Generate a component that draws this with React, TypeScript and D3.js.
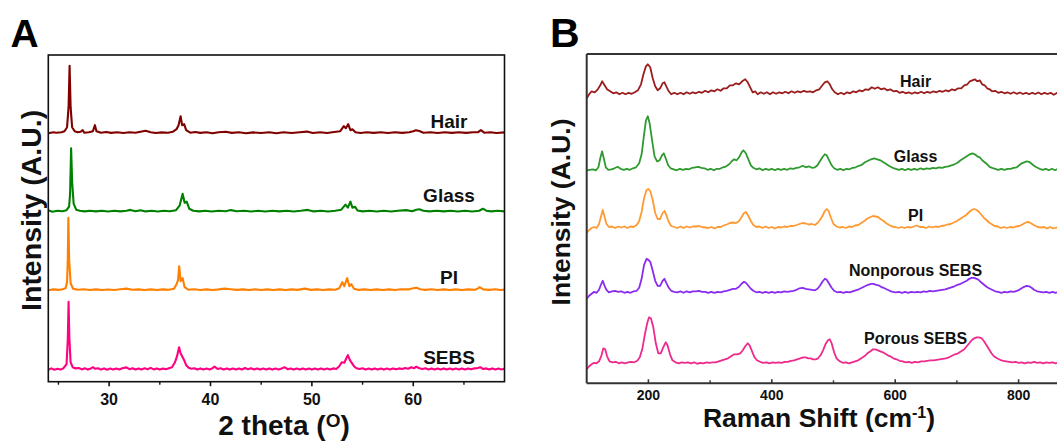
import React from "react";
import * as d3 from "d3";

type P = [number, number];

// ---------- Panel A: XRD (2 theta in degrees, intensity in A.U.) ----------
const xrdNames = ["Hair", "Glass", "PI", "SEBS"];
const xrdColors = ["#800000", "#008000", "#FF8000", "#FF0080"];
const xrdOffsets = [248.5, 170, 91.5, 11.5];
const xrdMajorTicks = [30, 40, 50, 60];
const xrdMinorTicks = [25, 35, 45, 55, 65];

const xrdHair: P[] = [
  [24, 0], [24.5, 1], [24.8, 0.5], [25.3, 1], [25.6, 2], [25.85, 6], [26.0, 26], [26.1, 67.5], [26.2, 26], [26.35, 6], [26.6, 2],
  [26.9, 1], [27.2, 1.5], [27.4, 3], [27.55, 0.5], [28.0, 1], [28.4, 2], [28.6, 8], [28.75, 2], [29.2, 0.5], [29.7, 1.2],
  [30.2, 0.3], [30.8, 1], [31.4, 0.2], [32.0, 1], [32.6, 0.4], [33.1, 1.5], [33.6, 2.5], [34.1, 1], [34.6, 0.2], [35.2, 0.8],
  [35.8, 0.5], [36.3, 1.5], [36.65, 4], [36.85, 8], [37.05, 17], [37.2, 8], [37.4, 9], [37.6, 3], [38.0, 0.5], [38.5, 1.2],
  [39.0, 0.3], [39.6, 1], [40.2, 0], [40.8, 1], [41.5, 1.4], [42.1, 0.3], [42.8, 1], [43.5, 0], [44.2, 0.8], [45.0, 0.2],
  [45.8, 1], [46.5, 0], [47.2, 0.9], [48.0, 0.2], [48.8, 1], [49.5, 1.6], [50.1, 0.2], [50.8, 0.9], [51.5, 0.2], [52.2, 1.2],
  [52.8, 2], [53.15, 7], [53.35, 5], [53.58, 9], [53.8, 3], [54.0, 4], [54.3, 1], [54.8, 0.2], [55.4, 1], [56.1, 0.3],
  [56.8, 1], [57.5, 0.2], [58.2, 1], [58.9, 0.3], [59.6, 1], [60.0, 2], [60.26, 3], [60.6, 2.2], [61.0, 0.5], [61.7, 1],
  [62.4, 0.2], [63.1, 1], [63.8, 0.3], [64.5, 1], [65.2, 0.3], [65.9, 1], [66.4, 1], [66.67, 3], [67.0, 0.5], [67.6, 1],
  [68.2, 0.2], [69, 0.8],
];

const xrdGlass: P[] = [
  [24, 1.5], [24.4, 0], [24.9, 1], [25.4, 0.5], [25.8, 1.5], [26.05, 5], [26.15, 18], [26.25, 63.5], [26.35, 30], [26.5, 8], [26.75, 2],
  [27.1, 1], [27.6, 0.3], [28.1, 1], [28.7, 0.3], [29.3, 1], [29.9, 0.2], [30.5, 1], [31.1, 0.3], [31.7, 1], [32.1, 1.8],
  [32.6, 0.4], [33.1, 1.5], [33.6, 0.3], [34.2, 1], [34.8, 0.2], [35.4, 1], [36.0, 0.4], [36.6, 1.5], [36.95, 6], [37.25, 18],
  [37.45, 9], [37.65, 10], [37.9, 3], [38.3, 1], [38.9, 0.3], [39.5, 1], [40.1, 0.2], [40.8, 1], [41.5, 0.4], [42.0, 1.6],
  [42.6, 0.5], [43.3, 1], [44.0, 0.2], [44.7, 0.9], [45.4, 0.2], [46.1, 1], [46.8, 0.3], [47.5, 1], [48.2, 0.2], [48.9, 0.9],
  [49.6, 1.8], [50.2, 0.3], [50.9, 1], [51.6, 0.2], [52.3, 1], [52.9, 2], [53.31, 7], [53.55, 4], [53.8, 10], [54.0, 4],
  [54.25, 5], [54.5, 1.2], [55.0, 0.3], [55.7, 1], [56.4, 0.2], [57.1, 0.9], [57.8, 0.2], [58.5, 1], [59.3, 1.6], [59.9, 0.5],
  [60.3, 2], [60.6, 2.5], [61.0, 1], [61.6, 0.3], [62.3, 1], [63.0, 0.3], [63.7, 1], [64.4, 0.2], [65.1, 0.9], [65.8, 0.2],
  [66.5, 1], [66.87, 3], [67.2, 1], [67.7, 0.3], [68.3, 1], [69, 0.3],
];

const xrdPI: P[] = [
  [24, 0], [24.5, 0.8], [25.0, 0.3], [25.4, 1], [25.7, 2], [25.85, 8], [25.92, 30], [25.98, 72.4], [26.06, 30], [26.2, 7], [26.45, 1.5],
  [26.9, 0.5], [27.5, 1], [28.1, 0.2], [28.7, 0.8], [29.3, 0.2], [29.9, 0.7], [30.5, 0.2], [31.1, 0.9], [31.7, 1.6], [32.3, 0.4],
  [32.9, 0.8], [33.5, 0.2], [34.1, 0.8], [34.7, 0.2], [35.3, 0.8], [35.9, 0.4], [36.4, 1.5], [36.65, 6], [36.8, 10], [36.91, 24],
  [37.05, 9], [37.25, 12], [37.45, 3], [37.8, 0.5], [38.4, 0.9], [39.0, 0.2], [39.6, 0.8], [40.2, 0.2], [40.8, 0.8], [41.4, 1.6],
  [42.0, 1], [42.6, 0.3], [43.2, 0.8], [43.8, 0.2], [44.4, 0.8], [45.0, 0.2], [45.6, 0.8], [46.2, 0.2], [46.8, 0.8], [47.4, 0.2],
  [48.0, 0.8], [48.6, 0.3], [49.3, 1.6], [49.9, 0.3], [50.5, 0.8], [51.1, 0.2], [51.7, 0.8], [52.3, 0.5], [52.7, 2], [53.0, 8],
  [53.2, 4], [53.48, 12], [53.7, 4], [53.9, 6], [54.15, 1.5], [54.6, 0.3], [55.2, 0.8], [55.8, 0.2], [56.4, 0.8], [57.0, 0.2],
  [57.6, 0.8], [58.2, 0.2], [58.8, 0.9], [59.5, 0.8], [60.0, 2], [60.3, 2.5], [60.7, 1], [61.2, 0.3], [61.8, 0.9], [62.4, 0.2],
  [63.0, 0.8], [63.6, 0.2], [64.2, 0.8], [64.8, 0.2], [65.4, 0.8], [66.1, 0.5], [66.3, 1.2], [66.54, 3], [66.9, 0.8], [67.5, 0.3],
  [68.1, 0.9], [68.6, 0.2], [69, 0.6],
];

const xrdSEBS: P[] = [
  [24, 0.5], [24.3, 1.8], [24.6, 0.5], [24.9, 1.5], [25.2, 0.6], [25.5, 2], [25.8, 6], [25.92, 30], [26.0, 68.5], [26.08, 32], [26.2, 8],
  [26.4, 3], [26.7, 1.8], [27.0, 2.2], [27.3, 0.8], [27.6, 2], [27.9, 0.6], [28.2, 1.8], [28.4, 3], [28.6, 1.5], [28.9, 2],
  [29.2, 0.6], [29.5, 1.8], [29.8, 0.5], [30.1, 1.6], [30.4, 0.6], [30.7, 1.7], [31.0, 0.8], [31.3, 2], [31.7, 2.8], [32.0, 1],
  [32.3, 2], [32.6, 0.7], [32.9, 1.8], [33.2, 0.8], [33.5, 2], [33.8, 1], [34.1, 2.3], [34.4, 0.8], [34.7, 1.8], [35.0, 0.6],
  [35.3, 1.7], [35.6, 1], [35.9, 2], [36.2, 3], [36.5, 8], [36.7, 14], [36.9, 23], [37.05, 17], [37.2, 14], [37.4, 10],
  [37.6, 5], [37.85, 2.5], [38.1, 1.5], [38.4, 2], [38.7, 0.7], [39.0, 1.8], [39.3, 0.8], [39.6, 1.7], [39.9, 0.8], [40.2, 2],
  [40.4, 3.5], [40.7, 1.2], [41.0, 2], [41.3, 0.8], [41.6, 1.8], [41.9, 0.6], [42.2, 1.7], [42.5, 0.8], [42.8, 1.8], [43.1, 0.7],
  [43.4, 2.2], [43.7, 1], [44.0, 2], [44.3, 0.8], [44.6, 1.8], [44.9, 0.6], [45.2, 1.6], [45.5, 0.7], [45.8, 1.8], [46.1, 0.6],
  [46.4, 1.6], [46.7, 0.7], [47.0, 1.6], [47.3, 3], [47.6, 1], [47.9, 1.7], [48.2, 0.6], [48.5, 1.6], [48.8, 0.8], [49.1, 1.8],
  [49.4, 0.8], [49.7, 1.6], [50.0, 0.6], [50.3, 1.6], [50.6, 0.7], [50.9, 1.8], [51.2, 0.8], [51.5, 1.6], [51.8, 0.8], [52.1, 1.8],
  [52.4, 1.2], [52.7, 4], [52.95, 8], [53.2, 7.5], [53.4, 12], [53.55, 15], [53.75, 10], [53.95, 7], [54.15, 4], [54.4, 2],
  [54.7, 1.2], [55.0, 2], [55.3, 0.8], [55.6, 1.7], [55.9, 0.7], [56.2, 1.8], [56.5, 0.8], [56.8, 1.6], [57.1, 0.6], [57.4, 1.7],
  [57.7, 0.8], [58.0, 1.8], [58.3, 0.9], [58.6, 1.8], [58.9, 1.2], [59.2, 2.2], [59.5, 1.5], [59.8, 3], [60.1, 2], [60.3, 3.5],
  [60.6, 2], [60.9, 1.2], [61.2, 2], [61.5, 0.8], [61.8, 1.8], [62.1, 0.7], [62.4, 1.7], [62.7, 0.8], [63.0, 1.8], [63.3, 0.8],
  [63.6, 1.7], [63.9, 0.6], [64.2, 1.6], [64.5, 0.8], [64.8, 1.8], [65.1, 0.8], [65.4, 1.7], [65.7, 0.9], [66.0, 1.8], [66.3, 2],
  [66.6, 3], [66.9, 1.2], [67.2, 1.8], [67.5, 0.7], [67.8, 1.8], [68.1, 0.8], [68.4, 1.7], [68.7, 0.8], [69, 1.5],
];

const xrdSeries = [xrdHair, xrdGlass, xrdPI, xrdSEBS];

// ---------- Panel B: Raman (cm-1, intensity in A.U.) ----------
const ramanNames = ["Hair", "Glass", "PI", "Nonporous SEBS", "Porous SEBS"];
const ramanColors = ["#9A1C1C", "#2F9A2F", "#FF9A33", "#8A2BF0", "#EE2A8C"];
const ramanOffsets = [289, 213, 155.3, 90.5, 20];
const ramanMajorTicks = [200, 400, 600, 800];
const ramanMinorTicks = [300, 500, 700];

const ramanHair: P[] = [
  [100, -4], [104, 0], [108, 3], [113, 2], [118, 5], [122, 9], [125, 13], [129, 9], [133, 5], [138, 3], [143, 1], [148, 2],
  [153, 0], [158, 1.5], [163, 0], [168, 1.5], [173, 0.5], [178, 2], [183, 4], [188, 10], [192, 20], [196, 28], [199, 30],
  [203, 27], [207, 16], [211, 8], [215, 4], [219, 6], [223, 11], [226, 12], [229, 8], [233, 3], [237, 0], [242, 1.5],
  [247, 0], [252, 1.5], [257, 0], [262, 2], [267, 0.5], [272, 2], [277, 1], [282, 2.5], [287, 1.5], [292, 3.5], [297, 2],
  [302, 4], [307, 3], [312, 5], [317, 3.5], [322, 6], [327, 6], [332, 9], [337, 9], [342, 11], [347, 10], [352, 13], [357, 15],
  [361, 12], [365, 7], [369, 2], [373, 3], [377, 0], [382, 2], [387, 0.5], [392, 2], [397, 0], [402, 2], [407, 0.5], [412, 2],
  [417, 1], [422, 2.5], [427, 1], [432, 3], [437, 1.5], [442, 3], [447, 2], [452, 3.5], [457, 2.5], [462, 3], [467, 2],
  [472, 4], [477, 5], [482, 9], [486, 12], [490, 13], [494, 10], [498, 5], [502, 2], [507, 0], [512, 1.5], [517, 0], [522, 2],
  [527, 1], [532, 3], [537, 2], [542, 4], [547, 3], [552, 5], [557, 4.5], [562, 7], [567, 5.5], [572, 7], [577, 5], [582, 6],
  [587, 4], [592, 5], [597, 3], [602, 3.5], [607, 1.5], [612, 2.5], [617, 1], [622, 2], [627, 0.5], [632, 2], [637, 1],
  [642, 2.5], [647, 1], [652, 2.5], [657, 1.5], [662, 3], [667, 2], [672, 3.5], [677, 2.5], [682, 4], [687, 3], [692, 5],
  [697, 4], [702, 6], [707, 6], [712, 9], [717, 10], [721, 13], [725, 14], [729, 15], [733, 13], [737, 14], [741, 10], [745, 9],
  [749, 6], [753, 5], [757, 3], [762, 3.5], [767, 1.5], [772, 2.5], [777, 1], [782, 2], [787, 0.5], [792, 2], [797, 0.5],
  [802, 1.8], [807, 0.3], [812, 1.5], [817, 0], [822, 1.5], [827, 0.3], [832, 1.8], [837, 0], [842, 1.5], [847, 0.3],
  [852, 1.5], [857, -0.5], [862, 1.3], [867, 0], [872, 1.3], [877, -0.3], [882, 1.2], [890, 0], [900, 0.5],
];

const ramanGlass: P[] = [
  [100, 0], [105, 0.5], [110, 1], [115, 0], [119, 3], [122, 12], [125, 19], [128, 11], [131, 3], [135, 0.5], [140, 1],
  [145, 2], [150, 3.5], [155, 1.5], [160, 0.5], [165, 1.5], [170, 0.5], [175, 2], [180, 3], [185, 7], [189, 16], [193, 36],
  [196, 50], [199, 54], [202, 47], [206, 30], [210, 14], [214, 9], [218, 10], [222, 15], [225, 17], [228, 12], [232, 5],
  [236, 2], [241, 1], [246, 0], [251, 1.5], [256, 0.5], [261, 1.5], [266, 1], [271, 2.5], [276, 3], [281, 3.5], [286, 2.5],
  [291, 2], [296, 0.5], [301, 1.5], [306, 0], [311, 1.5], [316, 1.5], [321, 3], [326, 4], [331, 6], [335, 9], [339, 11],
  [343, 10], [347, 13], [351, 18], [354, 20], [358, 17], [362, 11], [366, 5], [370, 2.5], [375, 1], [380, 2], [385, 0], [390, 1.5],
  [395, 0.5], [400, 1.5], [405, 0], [410, 1.5], [415, 0.5], [420, 1.5], [425, 0.5], [430, 2], [435, 1.5], [440, 2.5], [445, 3],
  [450, 4.5], [455, 3], [460, 4], [465, 2.5], [470, 3], [474, 5], [478, 9], [482, 13], [486, 16], [489, 15], [493, 10],
  [497, 5], [501, 2], [506, 0.5], [511, 1.5], [516, 0], [521, 1.5], [526, 1], [531, 2.5], [536, 3], [541, 4.5], [546, 5.5],
  [551, 8], [556, 9.5], [561, 11], [566, 12], [571, 11], [576, 10], [581, 8], [586, 6], [591, 4], [596, 2.5], [601, 1.5],
  [606, 0.5], [611, 1.5], [616, 0], [621, 1.5], [626, 0.5], [631, 1.5], [636, 0.5], [641, 2], [646, 1], [651, 2], [656, 1.5],
  [661, 2.5], [666, 2], [671, 3], [676, 2.5], [681, 3.5], [686, 4], [691, 5], [696, 6], [701, 7.5], [706, 10], [711, 12],
  [716, 14], [721, 16], [725, 17], [729, 16], [733, 14], [737, 13], [741, 10], [745, 8], [749, 6], [753, 3.5], [757, 2.5],
  [762, 1.5], [767, 0.5], [772, 1.5], [777, 0.5], [782, 1.5], [787, 1.5], [792, 2.5], [797, 3], [801, 5], [805, 7], [809, 8],
  [813, 9], [817, 8.5], [821, 6.5], [825, 4.5], [829, 3], [834, 1.5], [839, 0.5], [844, 1.5], [849, 0], [854, 1.5], [859, 0],
  [864, 1.5], [869, 0.5], [874, 1], [880, 0], [890, 1], [900, 0.5],
];

const ramanPI: P[] = [
  [100, -5], [104, -2], [108, 0], [112, 1], [116, 0], [120, 4], [123, 11], [126, 18], [129, 11], [132, 4], [136, 1],
  [141, 1.5], [146, 0], [151, 1.5], [156, 0.5], [161, 1.5], [166, 0], [171, 1.5], [176, 1], [181, 3], [185, 7], [189, 16],
  [193, 30], [197, 38], [200, 39], [203, 37], [207, 28], [211, 15], [215, 9], [219, 9], [223, 15], [226, 17], [229, 13],
  [233, 6], [237, 2], [242, 1], [247, 0], [252, 1.5], [257, 0], [262, 1.5], [267, 0.5], [272, 1.5], [277, 1.5], [282, 2],
  [287, 1], [292, 0.5], [297, 0], [302, 1], [307, -0.5], [312, 1], [317, 1], [322, 2.5], [327, 3.5], [332, 5], [337, 5.5],
  [342, 5], [347, 7], [351, 11], [355, 15], [358, 16], [362, 12], [366, 7], [370, 3], [375, 1], [380, 1.5], [385, 0],
  [390, 1.5], [395, 0], [400, 1], [405, -0.5], [410, 1], [415, 0.5], [420, 1.5], [425, 1], [430, 2], [435, 2], [440, 3],
  [445, 4], [450, 5], [455, 4.5], [460, 3.5], [465, 4], [470, 3], [474, 5], [478, 8], [482, 12], [486, 17], [489, 19],
  [492, 17], [496, 10], [500, 4], [505, 1.5], [510, 0.5], [515, 1], [520, 0], [525, 1.5], [530, 1], [535, 2.5], [540, 3],
  [545, 5], [550, 7], [555, 9.5], [560, 11], [564, 12], [568, 11.5], [572, 11], [576, 9], [580, 7.5], [585, 5], [590, 3],
  [595, 1.5], [600, 1], [605, 0], [610, 1], [615, 0], [620, 1], [625, 0.5], [630, 1.5], [635, 2.5], [640, 1], [645, 1],
  [650, 0], [655, 1.5], [660, 0.5], [665, 1.5], [670, 1], [675, 2], [680, 2.5], [685, 3.5], [690, 4], [695, 5.5], [700, 7],
  [705, 9], [710, 11], [715, 13], [720, 16], [724, 18], [728, 19], [732, 18], [736, 16], [740, 13], [744, 10], [748, 8],
  [752, 5.5], [756, 4], [761, 2], [766, 1.5], [771, 0], [776, 1], [781, 0], [786, 1], [791, 0.5], [796, 1.5], [801, 2],
  [806, 3.5], [810, 5], [814, 6], [818, 5.5], [822, 4], [826, 2.5], [831, 1], [836, 0.5], [841, 1], [846, -0.5], [851, 1],
  [856, -0.5], [861, 0.5], [866, -1], [871, 1], [876, -1.5], [881, 0.5], [890, -1], [900, 0],
];

const ramanNonporous: P[] = [
  [100, -6], [104, -3], [108, -1], [112, 1], [116, 0], [120, 3], [123, 8], [126, 12], [129, 7], [132, 3], [136, 0.5],
  [141, 1.5], [146, 2], [151, 1], [156, 1.5], [161, 0], [166, 1], [171, 0], [176, 1.5], [181, 2], [185, 5], [189, 14],
  [193, 28], [197, 34], [200, 33], [203, 31], [207, 22], [211, 12], [215, 7], [219, 7], [223, 12], [226, 14], [229, 10],
  [233, 5], [237, 2], [242, 1], [247, 0.5], [252, 1.5], [257, 0], [262, 1.5], [267, 0.5], [272, 1.5], [277, 1.5], [282, 2],
  [287, 1], [292, 1], [297, 0], [302, 1], [307, 0], [312, 1], [317, 0.5], [322, 1.5], [327, 2], [332, 3], [337, 4],
  [342, 4], [347, 6], [351, 9], [355, 11], [358, 10], [362, 7], [366, 4], [370, 2], [375, 0.5], [380, 1], [385, 0],
  [390, 1], [395, 0], [400, 1], [405, 0], [410, 1], [415, 0.5], [420, 1.5], [425, 1], [430, 1.5], [435, 2], [440, 3],
  [445, 4.5], [450, 5], [455, 4], [460, 3.5], [465, 3], [470, 2.5], [474, 4], [478, 7], [482, 11], [486, 14], [489, 13],
  [493, 9], [497, 5], [501, 2], [506, 0.5], [511, 1], [516, 0], [521, 1], [526, 0.5], [531, 1.5], [536, 2.5], [541, 3.5],
  [546, 5], [551, 6.5], [556, 8], [561, 9], [565, 9], [569, 8], [573, 7.5], [577, 6], [581, 5], [586, 3.5], [591, 2],
  [596, 1], [601, 0.5], [606, 1], [611, 0], [616, 1], [621, 0], [626, 1], [631, 0.5], [636, 1], [641, 0.5], [646, 1.5],
  [651, 1], [656, 2], [661, 1.5], [666, 2], [671, 2.5], [676, 3], [681, 3.5], [686, 4.5], [691, 5.5], [696, 6.5], [701, 8],
  [706, 9], [711, 10.5], [716, 12], [720, 14], [724, 15], [728, 15], [732, 14], [736, 12.5], [740, 10], [744, 8], [748, 6],
  [752, 4.5], [757, 3], [762, 1.5], [767, 1], [772, 0], [777, 1], [782, 0.5], [787, 1.5], [792, 1], [797, 2], [801, 3],
  [805, 4.5], [809, 6], [813, 7], [817, 6.5], [821, 5], [825, 3], [830, 1.5], [835, 1], [840, 0.5], [845, 1], [850, 0],
  [855, 1], [860, 0], [865, 1], [870, 0], [875, 1], [880, 0], [890, 0.5], [900, 0],
];

const ramanPorous: P[] = [
  [100, -6], [104, -3], [108, -1], [112, 0.5], [116, 0], [120, 2], [124, 8], [127, 15], [130, 14], [133, 7], [137, 2],
  [142, 1], [147, 1.5], [152, 0], [157, 1], [162, 0], [167, 1], [172, 1.5], [177, 1], [182, 2.5], [186, 6], [190, 14],
  [194, 28], [198, 40], [201, 46], [204, 45], [208, 36], [212, 20], [216, 10], [220, 10], [224, 16], [228, 21], [231, 18],
  [235, 9], [239, 3], [244, 1], [249, 0], [254, 1], [259, 0.5], [264, 1], [269, 0], [274, 1], [279, -0.5], [284, 0.5],
  [289, 0], [294, 1], [299, 0.5], [304, 1], [309, 1], [314, 2], [319, 3], [324, 4], [329, 5], [334, 7], [339, 9],
  [344, 9], [349, 10], [353, 13], [357, 17], [361, 20], [364, 18], [368, 12], [372, 6], [376, 3], [381, 1.5], [386, 0.5],
  [391, 1], [396, 0], [401, 1], [406, 0.5], [411, 1], [416, 0.5], [421, 1.5], [426, 1.5], [431, 2.5], [436, 3], [441, 4],
  [446, 5], [451, 6], [455, 6], [459, 5], [463, 5], [467, 4], [471, 4], [475, 5], [479, 8], [483, 13], [487, 19],
  [491, 23], [494, 24], [497, 20], [501, 11], [505, 5], [510, 2], [515, 0.5], [520, 1], [525, 0], [530, 1], [535, 2],
  [540, 3], [545, 5], [550, 7], [555, 10], [560, 12], [564, 14], [568, 14], [572, 13], [576, 12], [580, 11], [584, 9.5],
  [588, 8], [592, 7], [597, 5], [602, 4], [607, 2.5], [612, 2], [617, 1], [622, 1.5], [627, 0.5], [632, 1.5], [637, 1],
  [642, 2], [647, 2], [652, 2.5], [657, 3], [662, 3], [667, 3.5], [672, 4], [677, 4.5], [682, 5], [687, 6], [692, 7.5],
  [697, 9], [702, 10], [707, 12], [712, 14], [716, 17], [720, 20], [724, 23], [728, 25], [732, 26], [736, 26], [740, 25],
  [744, 22], [748, 18], [752, 14], [756, 10], [760, 7], [765, 5], [770, 3.5], [775, 2.5], [780, 2], [785, 1.5], [790, 1],
  [795, 1.5], [800, 0.5], [805, 1], [810, 0], [815, 1], [820, 0.5], [825, 1.5], [830, 0.5], [835, 1], [840, 0], [845, 1],
  [850, 0.5], [855, 1], [860, 0], [865, 1], [870, 0.5], [880, 0.5], [890, 1], [900, 0.5],
];

const ramanSeries = [ramanHair, ramanGlass, ramanPI, ramanNonporous, ramanPorous];

const FONT = "'Liberation Sans', Arial, Helvetica, sans-serif";

export default function App() {
  const W = 1057;
  const H = 441;

  // Panel A geometry
  const aL = 48.3, aR = 504.5, aT = 55, aB = 381.7;
  const xA = d3.scaleLinear().domain([24, 69]).range([aL, aR]);
  const yA = d3.scaleLinear().domain([0, aB - aT]).range([aB, aT]);

  // Panel B geometry
  const bL = 586.7, bT = 54, bB = 383.3;
  const xB = d3.scaleLinear().domain([100, 900]).range([bL, bL + 800 * 0.617]);
  const yB = d3.scaleLinear().domain([0, bB - bT]).range([bB, bT]);

  const lineA = (off: number) =>
    d3.line<P>().x((d) => xA(d[0])).y((d) => yA(d[1] + off)).curve(d3.curveLinear);
  const lineB = (off: number) =>
    d3.line<P>().x((d) => xB(d[0])).y((d) => yB(d[1] + off)).curve(d3.curveLinear);

  const xrdLabelY = [127.5, 202.3, 283.7, 363.5];
  const ramanLabelY = [86.6, 162.4, 221.3, 275.5, 344.4];

  return (
    <svg
      width={W}
      height={H}
      viewBox={`0 0 ${W} ${H}`}
      style={{ position: "absolute", left: 0, top: 0, background: "#fff" }}
      fontFamily={FONT}
    >
      <defs>
        <clipPath id="clipA">
          <rect x={aL} y={aT} width={aR - aL} height={aB - aT} />
        </clipPath>
        <clipPath id="clipB">
          <rect x={bL} y={bT} width={W - bL} height={bB - bT} />
        </clipPath>
      </defs>
      <rect x={0} y={0} width={W} height={H} fill="#fff" />

      {/* ---------- Panel A ---------- */}
      <text x={10.5} y={46.7} fontSize={39} fontWeight="bold" fill="#000">A</text>
      <g clipPath="url(#clipA)">
        {xrdSeries.map((s, i) => (
          <path key={i} d={lineA(xrdOffsets[i])(s) || ""} fill="none" stroke={xrdColors[i]} strokeWidth={2.1} strokeLinejoin="round" />
        ))}
      </g>
      <rect x={aL} y={aT} width={aR - aL} height={aB - aT} fill="none" stroke="#111" strokeWidth={1.6} />
      {xrdMajorTicks.map((t) => (
        <g key={t}>
          <line x1={xA(t)} x2={xA(t)} y1={aB} y2={aB + 4.5} stroke="#111" strokeWidth={1.6} />
          <text x={xA(t)} y={405} textAnchor="middle" fontSize={16} fontWeight="bold" fill="#111">{t}</text>
        </g>
      ))}
      {xrdMinorTicks.map((t) => (
        <line key={t} x1={xA(t)} x2={xA(t)} y1={aB} y2={aB + 3} stroke="#111" strokeWidth={1.4} />
      ))}
      {xrdNames.map((n, i) => (
        <text key={n} x={449} y={xrdLabelY[i]} textAnchor="middle" fontSize={19} fontWeight="bold" fill="#111">{n}</text>
      ))}
      <text x={284} y={435} textAnchor="middle" fontSize={28} fontWeight="bold" fill="#111">
        2 theta (<tspan fontSize={19} dy={-8}>O</tspan><tspan dy={8}>)</tspan>
      </text>
      <text
        transform={`translate(40.5,210.4) rotate(-90)`}
        textAnchor="middle"
        fontSize={28.5}
        fontWeight="bold"
        fill="#111"
      >
        Intensity (A.U.)
      </text>

      {/* ---------- Panel B ---------- */}
      <text x={550} y={46.7} fontSize={41} fontWeight="bold" fill="#000">B</text>
      <g clipPath="url(#clipB)">
        {ramanSeries.map((s, i) => (
          <path key={i} d={lineB(ramanOffsets[i])(s) || ""} fill="none" stroke={ramanColors[i]} strokeWidth={1.8} strokeLinejoin="round" />
        ))}
      </g>
      <line x1={bL} x2={bL} y1={bT} y2={bB} stroke="#333" strokeWidth={2} />
      <line x1={bL} x2={W + 5} y1={bT} y2={bT} stroke="#333" strokeWidth={2} />
      <line x1={bL} x2={W + 5} y1={bB} y2={bB} stroke="#333" strokeWidth={2} />
      {ramanMajorTicks.map((t) => (
        <g key={t}>
          <line x1={xB(t)} x2={xB(t)} y1={bB} y2={bB - 4} stroke="#333" strokeWidth={1.6} />
          <text x={xB(t)} y={399.5} textAnchor="middle" fontSize={14} fontWeight="bold" fill="#111">{t}</text>
        </g>
      ))}
      {ramanMinorTicks.map((t) => (
        <line key={t} x1={xB(t)} x2={xB(t)} y1={bB} y2={bB - 3} stroke="#333" strokeWidth={1.4} />
      ))}
      {ramanNames.map((n, i) => (
        <text key={n} x={915.6} y={ramanLabelY[i]} textAnchor="middle" fontSize={16} fontWeight="bold" fill="#111">{n}</text>
      ))}
      <text x={819} y={427} textAnchor="middle" fontSize={26.5} fontWeight="bold" fill="#111">
        Raman Shift (cm<tspan fontSize={16} dy={-9}>-1</tspan><tspan dy={9}>)</tspan>
      </text>
      <text
        transform={`translate(570,212) rotate(-90)`}
        textAnchor="middle"
        fontSize={26.5}
        fontWeight="bold"
        fill="#111"
      >
        Intensity (A.U.)
      </text>
    </svg>
  );
}
